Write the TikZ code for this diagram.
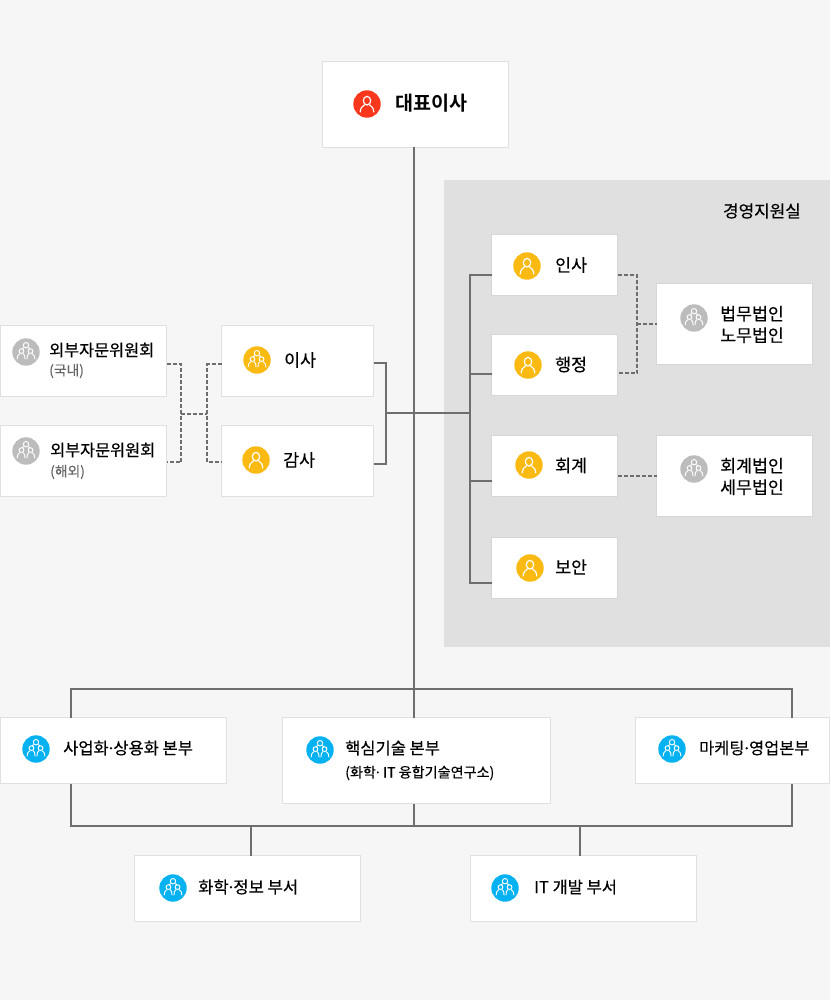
\documentclass[tikz,border=0pt]{standalone}
\usepackage{fontspec}
\setmainfont{Noto Sans CJK KR}
\newfontfamily\krm{Noto Sans CJK KR}[FakeBold=0.3]
\newfontfamily\krb{Noto Sans CJK KR}[BoldFont={Noto Sans CJK KR Bold}]
\definecolor{bgc}{HTML}{F6F6F6}
\definecolor{panelc}{HTML}{E0E0E0}
\definecolor{edgec}{HTML}{E0E0E0}
\definecolor{boxedge}{HTML}{D6D6D6}
\definecolor{linec}{HTML}{6E6E6E}
\definecolor{redc}{HTML}{F9371C}
\definecolor{yelc}{HTML}{FBBA11}
\definecolor{grayc}{HTML}{BCBCBC}
\definecolor{bluec}{HTML}{04B1F1}
\definecolor{subc}{HTML}{666666}
\newcommand{\fs}[1]{\fontsize{#1}{21.5}\selectfont}
\newcommand{\md}{\kern-.14em·\kern-.14em}
\tikzset{
  box/.style={draw=edgec,line width=1pt,fill=white,outer sep=0pt},
  solidline/.style={draw=linec,line width=2.2pt},
  dashline/.style={draw=linec,line width=2.2pt,dash pattern=on 4pt off 2pt},
  lab/.style={anchor=west,inner sep=0pt,font=\fs{17.3}\krm,text=black,align=left},
  subl/.style={anchor=west,inner sep=0pt,font=\fs{13.8}\krm,text=subc},
  iconline/.style={draw=white,line width=1.2pt,line cap=round},
  iconthin/.style={draw=white,line width=.95pt,line cap=round},
  person/.pic={
    \draw[iconline] (0,-3.3) ellipse (3.7 and 4.3);
    \draw[iconline] (-6.8,8) .. controls (-6.5,4) and (-5,2.6) .. (-2.6,.8);
    \draw[iconline] (6.8,8) .. controls (6.5,4) and (5,2.6) .. (2.6,.8);
  },
  people/.pic={
    \begin{scope}[scale=1.08]
    \draw[iconthin] (0,-6.3) circle (2.5);
    \draw[iconthin] (-4.2,-.8) circle (2.2);
    \draw[iconthin] (4.2,-.8) circle (2.2);
    \draw[iconthin] (-2.2,-3.9) -- (-3.6,-3.2);
    \draw[iconthin] (2.2,-3.9) -- (3.6,-3.2);
    \draw[iconthin] (-8.2,6.5) .. controls (-8,3.5) and (-7.5,2.8) .. (-5.8,1.6);
    \draw[iconthin] (-.9,6.5) .. controls (-1,3.5) and (-1.2,2.8) .. (-2.6,1.6);
    \draw[iconthin] (8.2,6.5) .. controls (8,3.5) and (7.5,2.8) .. (5.8,1.6);
    \draw[iconthin] (.9,6.5) .. controls (1,3.5) and (1.2,2.8) .. (2.6,1.6);
    \end{scope}
  }
}
\newcommand{\iconP}[3]{\fill[#3] (#1,#2) circle (13.7); \pic at (#1,#2) {person};}
\newcommand{\iconG}[3]{\fill[#3] (#1,#2) circle (13.7); \pic at (#1,#2) {people};}
\newcommand{\bx}[5]{\node[box,minimum width=#3*1pt-1pt,minimum height=#4*1pt-1pt,inner sep=0pt,anchor=north west] (#5) at (#1+.5,#2+.5) {};}
\newcommand{\by}[5]{\node[box,draw=boxedge,minimum width=#3*1pt-1pt,minimum height=#4*1pt-1pt,inner sep=0pt,anchor=north west] (#5) at (#1+.5,#2+.5) {};}
\begin{document}
\begin{tikzpicture}[x=1pt,y=-1pt]
\useasboundingbox (0,0) rectangle (830,1000);
\fill[bgc] (0,0) rectangle (830,1000);
\fill[panelc] (444,180) rectangle (830,647);
\node[anchor=east,inner sep=0pt,font=\fs{16.9}\krm] (panel) at (801,211) {경영지원실};

% boxes
\bx{322}{61}{187}{87}{ceo}
\by{491}{234}{127}{62}{hr}
\by{491}{334}{127}{62}{admin}
\by{491}{435}{127}{62}{acct}
\by{491}{537}{127}{62}{sec}
\by{656}{283}{157}{82}{law}
\by{656}{435}{157}{82}{tax}
\bx{0}{325}{167}{72}{dom}
\bx{0}{425}{167}{72}{ovs}
\bx{221}{325}{153}{72}{dir}
\bx{221}{425}{153}{72}{aud}
\bx{0}{717}{227}{67}{biz}
\bx{282}{717}{269}{87}{core}
\bx{635}{717}{195}{67}{mkt}
\bx{134}{855}{227}{67}{chem}
\bx{470}{855}{227}{67}{itd}

% junctions
\coordinate (jL) at (386,413);
\coordinate (jR) at (470,413);
\coordinate (jTop) at (414,689);
\coordinate (jBot) at (414,826);

% solid connectors
\draw[solidline] (ceo.south -| jTop) -- (core.north -| jTop);
\draw[solidline] (core.south -| jBot) -- (jBot);
\draw[solidline] (dir.east |- 0,363) -| (jL) |- (aud.east |- 0,464);
\draw[solidline] (jL) -- (jR);
\draw[solidline] (hr.west |- 0,275) -| (470,583) -- (sec.west |- 0,583);
\draw[solidline] (470,374) -- (admin.west |- 0,374);
\draw[solidline] (470,481) -- (acct.west |- 0,481);
\draw[solidline] (biz.north -| 71,0) |- (792,689) -- (mkt.north -| 792,0);
\draw[solidline] (biz.south -| 71,0) |- (792,826) -- (mkt.south -| 792,0);
\draw[solidline] (chem.north -| 251,0) -- (251,826);
\draw[solidline] (itd.north -| 580,0) -- (580,826);

% dashed connectors
\draw[dashline] (dom.east |- 0,364) -- (181,364) -- (181,462) -- (ovs.east |- 0,462);
\draw[dashline] (dir.west |- 0,364) -- (207,364) -- (207,462) -- (aud.west |- 0,462);
\draw[dashline] (181,414) -- (207,414);
\draw[dashline] (hr.east |- 0,275) -- (637,275) -- (637,373) -- (admin.east |- 0,373);
\draw[dashline] (637,324) -- (law.west);
\draw[dashline] (acct.east |- 0,476) -- (tax.west |- 0,476);

% icons
\iconP{367}{104}{redc}
\iconP{527}{266}{yelc}
\iconP{528}{365}{yelc}
\iconP{529}{465}{yelc}
\iconP{530}{568}{yelc}
\iconP{256}{460}{yelc}
\iconG{257}{360}{yelc}
\iconG{26}{352}{grayc}
\iconG{26}{451}{grayc}
\iconG{694}{318}{grayc}
\iconG{694}{469}{grayc}
\iconG{36}{749}{bluec}
\iconG{320}{750}{bluec}
\iconG{672}{749}{bluec}
\iconG{173}{888}{bluec}
\iconG{505}{888}{bluec}

% labels
\node[lab,font=\fs{19.6}\krb\bfseries] (tceo) at (395,103.5) {대표이사};
\node[lab] at (555,265) {인사};
\node[lab] at (555,364.5) {행정};
\node[lab] at (555,465.5) {회계};
\node[lab] at (555,567) {보안};
\node[lab] at (720,324.5) {법무법인\\노무법인};
\node[lab] at (720,476.5) {회계법인\\세무법인};
\node[lab] at (284,360) {이사};
\node[lab] at (283,460) {감사};
\node[lab,font=\fs{16.3}\krm] at (49,350) {외부자문위원회};
\node[subl] at (49,371) {(국내)};
\node[lab,font=\fs{16.3}\krm] at (50,450) {외부자문위원회};
\node[subl] at (50,472) {(해외)};
\node[lab,font=\fs{16.5}\krm] at (63,748) {사업화\md 상용화 본부};
\node[lab,font=\fs{16.5}\krm] at (345,748) {핵심기술 본부};
\node[subl,text=black,font=\fs{14.1}\krm] at (345,773) {(화학\md\  IT 융합기술연구소)};
\node[lab,font=\fs{16.4}\krm] at (699,748) {마케팅\md 영업본부};
\node[lab,font=\fs{16.6}\krm] at (198,887) {화학\md 정보 부서};
\node[lab,font=\fs{16.5}\krm] at (534,887) {IT 개발 부서};
\end{tikzpicture}
\end{document}
